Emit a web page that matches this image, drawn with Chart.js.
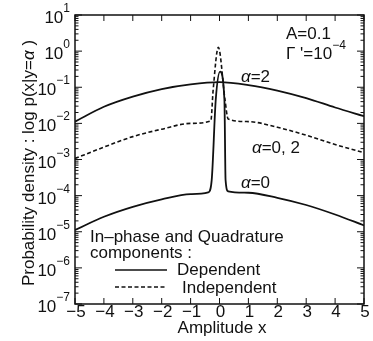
<!DOCTYPE html>
<html>
<head>
<meta charset="utf-8">
<script src="https://cdn.jsdelivr.net/npm/chart.js@4.4.1/dist/chart.umd.min.js"></script>
<style>
  html, body { margin: 0; padding: 0; background: #fff; }
</style>
</head>
<body>
<canvas id="grafico" width="373" height="341"></canvas>
<script>
// eixos
const xTicks = [-5, -4, -3, -2, -1, 0, 1, 2, 3, 4, 5];
const yDecadas = [-7, -6, -5, -4, -3, -2, -1, 0, 1];

// alpha = 2, componentes dependentes (linha cheia)
const alpha2X = [-5, -4, -3, -2, -1, 0, 1, 2, 3, 4, 5];
const alpha2Y = [0.0112, 0.0288, 0.055, 0.089, 0.12, 0.138, 0.115, 0.081, 0.05, 0.0275, 0.0158];

// alpha = 0, componentes dependentes (linha cheia, com pico)
const alpha0X = [-5, -4, -3, -2, -1, -0.39, -0.27, -0.13, 0.02, 0.17, 0.21, 0.3, 1, 2, 3, 4, 5];
const alpha0Y = [1.12e-5, 2.6e-5, 4.9e-5, 7.9e-5, 1.1e-4, 1.23e-4, 2.7e-4, 0.045, 0.27, 0.045, 2.7e-4, 1.32e-4, 1.2e-4, 8.7e-5, 5.5e-5, 3.0e-5, 1.5e-5];

// alpha = 0, 2, componentes independentes (tracejada)
const indepX = [-5, -4, -3, -2, -1, -0.3, -0.22, -0.04, 0.19, 0.3, 1, 2, 3, 4, 5];
const indepY = [1.07e-3, 2.2e-3, 4.3e-3, 6.9e-3, 0.01, 0.0117, 0.083, 1.28, 0.045, 0.0132, 0.0112, 0.0078, 0.0047, 0.0026, 0.00155];

const FONTE = '"Liberation Sans", Arial, Helvetica, sans-serif';
const COR = "#111";

function pares(xs, ys) {
  return xs.map((x, i) => ({ x: x, y: ys[i] }));
}

function linha(ctx, x1, y1, x2, y2) {
  ctx.beginPath();
  ctx.moveTo(x1, y1);
  ctx.lineTo(x2, y2);
  ctx.stroke();
}

// desenha uma sequencia de pedacos de texto [texto, fonte] a partir de x
function textoPartes(ctx, partes, x, y) {
  let cx = x;
  partes.forEach((p) => {
    ctx.font = p[1];
    ctx.fillText(p[0], cx, y + (p[2] || 0));
    cx += ctx.measureText(p[0]).width;
  });
  return cx;
}

function potencia(ctx, exp, direita, yTick) {
  const e = exp < 0 ? "\u2212" + -exp : String(exp);
  ctx.font = "12px " + FONTE;
  const we = ctx.measureText(e).width;
  ctx.font = "17px " + FONTE;
  const wb = ctx.measureText("10").width;
  ctx.textAlign = "left";
  ctx.textBaseline = "alphabetic";
  ctx.fillText("10", direita - we - wb, yTick + 8);
  ctx.font = "12px " + FONTE;
  ctx.fillText(e, direita - we, yTick - 3);
}

const eixosPlugin = {
  id: "eixos",
  afterDatasetsDraw(chart) {
    const ctx = chart.ctx;
    const a = chart.chartArea;
    const x = chart.scales.x;
    const y = chart.scales.y;
    ctx.save();
    ctx.strokeStyle = COR;
    ctx.fillStyle = COR;

    // moldura
    ctx.lineWidth = 1.5;
    ctx.strokeRect(a.left, a.top, a.right - a.left, a.bottom - a.top);

    // marcas do eixo x (para dentro)
    ctx.lineWidth = 1;
    xTicks.forEach((v) => {
      const px = x.getPixelForValue(v);
      linha(ctx, px, a.bottom, px, a.bottom - 6);
      linha(ctx, px, a.top, px, a.top + 6);
    });

    // marcas do eixo y, decadas e menores
    yDecadas.forEach((d) => {
      for (let m = 1; m <= 9; m++) {
        const v = m * Math.pow(10, d);
        if (v > 10) break;
        const py = y.getPixelForValue(v);
        const len = m === 1 ? 7 : 3.5;
        linha(ctx, a.left, py, a.left + len, py);
        linha(ctx, a.right, py, a.right - len, py);
        if (d === 1) break;
      }
    });

    // rotulos do eixo y
    yDecadas.forEach((d) => {
      potencia(ctx, d, 70, y.getPixelForValue(Math.pow(10, d)));
    });

    // rotulos do eixo x
    ctx.font = "17px " + FONTE;
    ctx.textAlign = "center";
    ctx.textBaseline = "alphabetic";
    xTicks.forEach((v) => {
      const t = v < 0 ? "\u2212" + -v : String(v);
      ctx.fillText(t, x.getPixelForValue(v) + 1, a.bottom + 13);
    });

    // titulo do eixo x
    ctx.fillText("Amplitude x", 222, 333);

    // titulo do eixo y (rotacionado)
    const f = "17px " + FONTE;
    const fi = "italic 17px " + FONTE;
    const partesY = [["Probability density : log p(x|y=", f], ["\u03b1", fi], [" )", f]];
    let larg = 0;
    partesY.forEach((p) => {
      ctx.font = p[1];
      larg += ctx.measureText(p[0]).width;
    });
    ctx.save();
    ctx.translate(34, 163);
    ctx.rotate(-Math.PI / 2);
    ctx.textAlign = "left";
    textoPartes(ctx, partesY, -larg / 2, 0);
    ctx.restore();

    ctx.textAlign = "left";
    ctx.textBaseline = "alphabetic";

    // parametros
    ctx.font = f;
    ctx.fillText("A=0.1", 286, 39);
    textoPartes(ctx, [["\u0393 '=10", f], ["\u22124", "12px " + FONTE, -10]], 286, 59);

    // rotulos das curvas
    textoPartes(ctx, [["\u03b1", fi], ["=2", f]], 241, 82);
    textoPartes(ctx, [["\u03b1", fi], ["=0, 2", f]], 252, 153);
    textoPartes(ctx, [["\u03b1", fi], ["=0", f]], 241, 188);

    // legenda
    ctx.font = f;
    ctx.fillText("In\u2013phase and Quadrature", 90, 242);
    ctx.fillText("components :", 90, 258);
    ctx.fillText("Dependent", 177, 275);
    ctx.fillText("Independent", 182, 293);
    ctx.lineWidth = 1.5;
    linha(ctx, 115, 270, 167, 270);
    ctx.setLineDash([4, 2.5]);
    linha(ctx, 115, 287, 167, 287);
    ctx.setLineDash([]);

    ctx.restore();
  },
};

const ctx = document.getElementById("grafico").getContext("2d");

new Chart(ctx, {
  type: "line",
  data: {
    datasets: [
      {
        label: "Dependent, \u03b1=2",
        data: pares(alpha2X, alpha2Y),
        borderColor: COR,
        borderWidth: 1.8,
        pointRadius: 0,
        cubicInterpolationMode: "monotone",
      },
      {
        label: "Dependent, \u03b1=0",
        data: pares(alpha0X, alpha0Y),
        borderColor: COR,
        borderWidth: 1.8,
        pointRadius: 0,
        cubicInterpolationMode: "monotone",
      },
      {
        label: "Independent, \u03b1=0, 2",
        data: pares(indepX, indepY),
        borderColor: COR,
        borderWidth: 1.6,
        borderDash: [4, 2.5],
        pointRadius: 0,
        cubicInterpolationMode: "monotone",
      },
    ],
  },
  options: {
    responsive: false,
    animation: false,
    devicePixelRatio: 1,
    layout: { padding: { left: 75, right: 9, top: 15, bottom: 37 } },
    plugins: {
      legend: { display: false },
      tooltip: { enabled: false },
    },
    scales: {
      x: { type: "linear", min: -5, max: 5, display: false },
      y: { type: "logarithmic", min: 1e-7, max: 10, display: false },
    },
  },
  plugins: [eixosPlugin],
});
</script>
</body>
</html>
